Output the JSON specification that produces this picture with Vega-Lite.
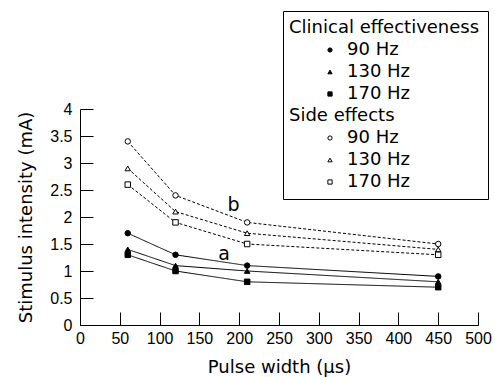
{
  "$schema": "https://vega.github.io/schema/vega-lite/v6.json",
  "width": 398,
  "height": 216,
  "autosize": "none",
  "padding": {"left": 80, "top": 109, "right": 17, "bottom": 52},
  "background": "white",
  "config": {
    "view": {"stroke": null},
    "font": "DejaVu Sans",
    "axis": {
      "grid": false,
      "domainColor": "black",
      "tickColor": "black",
      "labelColor": "black",
      "titleColor": "black",
      "labelFont": "Liberation Sans",
      "labelFontSize": 16,
      "titleFont": "DejaVu Sans",
      "titleFontSize": 18,
      "titleFontWeight": "normal",
      "tickSize": -13,
      "labelFlush": false,
      "labelOverlap": false,
      "domainWidth": 1,
      "tickWidth": 1
    }
  },
  "datasets": {
    "series": [
      {"pw": 60, "mA": 1.7, "series": "C90", "type": "C"},
      {"pw": 120, "mA": 1.3, "series": "C90", "type": "C"},
      {"pw": 210, "mA": 1.1, "series": "C90", "type": "C"},
      {"pw": 450, "mA": 0.9, "series": "C90", "type": "C"},
      {"pw": 60, "mA": 1.4, "series": "C130", "type": "C"},
      {"pw": 120, "mA": 1.1, "series": "C130", "type": "C"},
      {"pw": 210, "mA": 1.0, "series": "C130", "type": "C"},
      {"pw": 450, "mA": 0.8, "series": "C130", "type": "C"},
      {"pw": 60, "mA": 1.3, "series": "C170", "type": "C"},
      {"pw": 120, "mA": 1.0, "series": "C170", "type": "C"},
      {"pw": 210, "mA": 0.8, "series": "C170", "type": "C"},
      {"pw": 450, "mA": 0.7, "series": "C170", "type": "C"},
      {"pw": 60, "mA": 3.4, "series": "S90", "type": "S"},
      {"pw": 120, "mA": 2.4, "series": "S90", "type": "S"},
      {"pw": 210, "mA": 1.9, "series": "S90", "type": "S"},
      {"pw": 450, "mA": 1.5, "series": "S90", "type": "S"},
      {"pw": 60, "mA": 2.9, "series": "S130", "type": "S"},
      {"pw": 120, "mA": 2.1, "series": "S130", "type": "S"},
      {"pw": 210, "mA": 1.7, "series": "S130", "type": "S"},
      {"pw": 450, "mA": 1.4, "series": "S130", "type": "S"},
      {"pw": 60, "mA": 2.6, "series": "S170", "type": "S"},
      {"pw": 120, "mA": 1.9, "series": "S170", "type": "S"},
      {"pw": 210, "mA": 1.5, "series": "S170", "type": "S"},
      {"pw": 450, "mA": 1.3, "series": "S170", "type": "S"}
    ],
    "notes": [
      {"pw": 181, "mA": 1.31, "label": "a"},
      {"pw": 193, "mA": 2.22, "label": "b"}
    ]
  },
  "encoding": {
    "x": {
      "field": "pw",
      "type": "quantitative",
      "scale": {"domain": [0, 500], "nice": false},
      "axis": {"values": [0, 50, 100, 150, 200, 250, 300, 350, 400, 450, 500], "labelPadding": 18, "titlePadding": 12, "format": "d"},
      "title": "Pulse width (µs)"
    },
    "y": {
      "field": "mA",
      "type": "quantitative",
      "scale": {"domain": [0, 4], "nice": false},
      "axis": {"values": [0, 0.5, 1, 1.5, 2, 2.5, 3, 3.5, 4], "labelPadding": 21, "titlePadding": 14, "format": "~g"},
      "title": "Stimulus intensity (mA)"
    }
  },
  "layer": [
    {
      "data": {"name": "series"},
      "mark": {"type": "line", "color": "black", "strokeWidth": 1},
      "encoding": {
        "detail": {"field": "series", "type": "nominal"},
        "strokeDash": {
          "field": "type",
          "type": "nominal",
          "scale": {"domain": ["C", "S"], "range": [[1, 0], [3, 2]]},
          "legend": null
        }
      }
    },
    {
      "data": {"name": "series"},
      "mark": {"type": "point", "filled": true, "size": 30, "stroke": "black", "strokeWidth": 1, "opacity": 1},
      "encoding": {
        "shape": {
          "field": "series",
          "type": "nominal",
          "scale": {
            "domain": ["C", "C90", "C130", "C170", "S", "S90", "S130", "S170"],
            "range": ["M0,0", "circle", "triangle-up", "square", "M0,0", "circle", "triangle-up", "square"]
          },
          "legend": {
            "orient": "none",
            "legendX": 203,
            "legendY": -98,
            "title": null,
            "strokeColor": "black",
            "padding": 8,
            "labelFont": "DejaVu Sans",
            "labelFontSize": 18,
            "labelColor": "black",
            "labelLimit": 400,
            "labelOffset": 8,
            "symbolOffset": 30,
            "symbolSize": 18,
            "rowPadding": 4,
            "symbolStrokeColor": "black",
            "symbolStrokeWidth": 1,
            "labelExpr": "datum.value == 'C' ? 'Clinical effectiveness' : datum.value == 'S' ? 'Side effects' : (datum.value == 'C90' || datum.value == 'S90') ? '90 Hz' : (datum.value == 'C130' || datum.value == 'S130') ? '130 Hz' : '170 Hz'",
            "encoding": {
              "labels": {"dx": {"condition": {"test": "datum.value == 'C' || datum.value == 'S'", "value": -58}, "value": 0}},
              "symbols": {"stroke": {"value": "black"}, "strokeWidth": {"value": 1}, "size": {"value": 18}}
            }
          }
        },
        "fill": {
          "field": "series",
          "type": "nominal",
          "scale": {
            "domain": ["C", "C90", "C130", "C170", "S", "S90", "S130", "S170"],
            "range": ["transparent", "black", "black", "black", "transparent", "white", "white", "white"]
          },
          "legend": {
            "orient": "none",
            "legendX": 203,
            "legendY": -98,
            "title": null
          }
        }
      }
    },
    {
      "data": {"name": "notes"},
      "mark": {"type": "text", "font": "DejaVu Sans", "fontSize": 19, "color": "black", "align": "center", "baseline": "middle"},
      "encoding": {"text": {"field": "label", "type": "nominal"}}
    }
  ]
}
